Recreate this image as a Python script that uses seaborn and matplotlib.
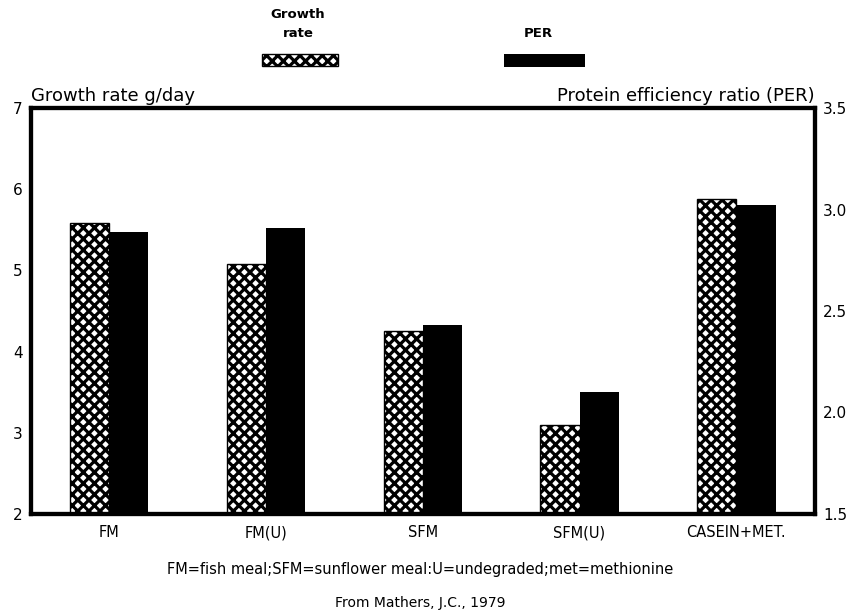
import pandas as pd
import matplotlib.pyplot as plt
import seaborn as sns
from matplotlib.patches import Rectangle

# data
diets = ["FM", "FM(U)", "SFM", "SFM(U)", "CASEIN+MET."]
growth_rate = [5.58, 5.08, 4.25, 3.10, 5.88]   # g/day, left axis
per = [2.89, 2.91, 2.43, 2.10, 3.02]           # protein efficiency ratio, right axis
series = ["Growth rate", "PER"]
growth_ticks = [2, 3, 4, 5, 6, 7]
per_ticks = [1.5, 2.0, 2.5, 3.0, 3.5]

df = pd.DataFrame({"diet": diets * 2,
                   "series": [series[0]] * len(diets) + [series[1]] * len(diets),
                   "value": growth_rate + per})

sns.set_style("white")
plt.rcParams["font.family"] = ["DejaVu Sans"]
plt.rcParams["text.color"] = "black"
plt.rcParams["xtick.color"] = "black"
plt.rcParams["ytick.color"] = "black"
plt.rcParams["hatch.linewidth"] = 2.3

fig = plt.figure(figsize=(8.54, 6.14), dpi=100)
ax = fig.add_axes([0.036, 0.163, 0.918, 0.661])
ax2 = ax.twinx()

pal = {"Growth rate": "black", "PER": "black"}
sns.barplot(data=df[df.series == "Growth rate"], x="diet", y="value", hue="series",
            hue_order=series, palette=pal, dodge=True, width=0.5, saturation=1,
            legend=False, ax=ax)
sns.barplot(data=df[df.series == "PER"], x="diet", y="value", hue="series",
            hue_order=series, palette=pal, dodge=True, width=0.5, saturation=1,
            legend=False, ax=ax2)

# dense black cross-hatch leaving white diamonds for the growth rate bars
for p in ax.patches:
    p.set_facecolor("white")
    p.set_edgecolor("black")
    p.set_linewidth(1)
    p.set_hatch("xxx")
for p in ax2.patches:
    p.set_linewidth(0)

ax.set_xlim(-0.5, 4.5)
ax.set_ylim(2, 7)
ax2.set_ylim(1.5, 3.5)
ax.set_yticks(growth_ticks)
ax2.set_yticks(per_ticks)
ax2.set_yticklabels([f"{t:.1f}" for t in per_ticks])
ax.set(xlabel="", ylabel="")
ax2.set(xlabel="", ylabel="")
ax.tick_params(axis="y", length=0, pad=6, labelsize=11)
ax2.tick_params(axis="y", length=0, pad=6, labelsize=11)
ax.tick_params(axis="x", length=0, pad=8, labelsize=10.5)

for a in (ax, ax2):
    for s in a.spines.values():
        s.set_linewidth(3)
        s.set_color("black")

ax.text(0, 1.008, "Growth rate g/day", transform=ax.transAxes,
        ha="left", va="bottom", fontsize=13)
ax.text(1, 1.008, "Protein efficiency ratio (PER)", transform=ax.transAxes,
        ha="right", va="bottom", fontsize=13)

# legend drawn above the plot: labels over the swatches
fig.text(0.349, 0.935, "Growth\nrate", ha="center", va="bottom", fontsize=9.5,
         linespacing=1.6, fontweight="semibold")
fig.add_artist(Rectangle((0.307, 0.893), 0.089, 0.0195, transform=fig.transFigure,
                         facecolor="white", edgecolor="black", lw=1, hatch="xxx"))
fig.text(0.63, 0.935, "PER", ha="center", va="bottom", fontsize=9.5,
         fontweight="semibold")
fig.add_artist(Rectangle((0.590, 0.891), 0.095, 0.0215, transform=fig.transFigure,
                         facecolor="black", lw=0))

fig.text(0.492, 0.072, "FM=fish meal;SFM=sunflower meal:U=undegraded;met=methionine",
         ha="center", va="center", fontsize=10.5)
fig.text(0.492, 0.018, "From Mathers, J.C., 1979", ha="center", va="center", fontsize=10)

fig.savefig("out.png", dpi=100)
